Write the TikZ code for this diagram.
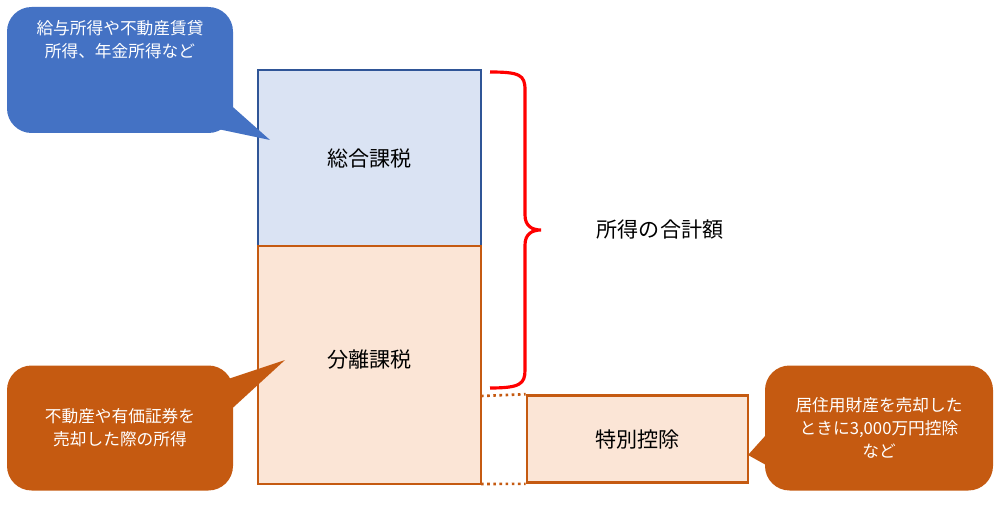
\documentclass[tikz,border=0pt]{standalone}
\usepackage{fontspec}
\setmainfont{Noto Sans CJK JP}
\begin{document}
\begin{tikzpicture}[x=0.02cm,y=-0.02cm,
  box/.style={draw,line width=1.5pt,inner sep=0pt},
  lbl/.style={font=\fontsize{12}{14}\selectfont},
  call/.style={text=white,align=center,font=\fontsize{9.5}{13}\selectfont},
  dot/.style={dotted,line width=1.5pt,draw=orangeB}]
\definecolor{blueF}{HTML}{DAE3F3}\definecolor{blueB}{HTML}{2F5597}
\definecolor{orangeF}{HTML}{FBE5D6}\definecolor{orangeB}{HTML}{C55A11}
\definecolor{callB}{HTML}{4472C4}
\useasboundingbox (0,0) rectangle (1000,506);
% boxes
\node[box,draw=blueB,fill=blueF,minimum width=223*0.02cm,minimum height=176*0.02cm] (sogo) at (369.5,158) {};
\node[lbl] at (369.5,158) {総合課税};
\node[box,draw=orangeB,fill=orangeF,minimum width=223*0.02cm,minimum height=238*0.02cm] (bunri) at (369.5,365) {};
\node[lbl] at (369.5,360) {分離課税};
\node[box,draw=orangeB,fill=orangeF,minimum width=221*0.02cm,minimum height=87*0.02cm] (toku) at (637.5,439) {};
\node[lbl] at (toku) {特別控除};
\coordinate (d1) at (481,396); \coordinate (d2) at (481,484);
\draw[dot] (d1) -- (toku.north west);
\draw[dot] (d2) -- (toku.south west);
% brace
\draw[red,line width=1.8pt] (490,72) .. controls (520,72) and (525,75) .. (525,90) -- (525,215)
  .. controls (525,226) and (532,230) .. (541,230)
  .. controls (532,230) and (525,234) .. (525,245) -- (525,370)
  .. controls (525,384) and (520,388) .. (490,388);
\node[lbl] (total) at (660,230) {所得の合計額};
% callouts
\fill[callB] (175,120) -- (270,140) -- (225,100) -- cycle;
\node[fill=callB,rounded corners=14pt,minimum width=226*0.02cm,minimum height=126*0.02cm,call] (c1) at (120,70) {給与所得や不動産賃貸\\所得、年金所得など\\[22pt]};
\fill[orangeB] (225,380) -- (285,360) -- (225,415) -- cycle;
\node[fill=orangeB,rounded corners=14pt,minimum width=226*0.02cm,minimum height=125*0.02cm,call] (c2) at (120,428) {不動産や有価証券を\\売却した際の所得};
\fill[orangeB] (775,425) -- (748,455) -- (775,470) -- cycle;
\node[fill=orangeB,rounded corners=14pt,minimum width=228*0.02cm,minimum height=125*0.02cm,call] (c3) at (879,428) {居住用財産を売却した\\ときに3,000万円控除\\など};
\end{tikzpicture}
\end{document}
